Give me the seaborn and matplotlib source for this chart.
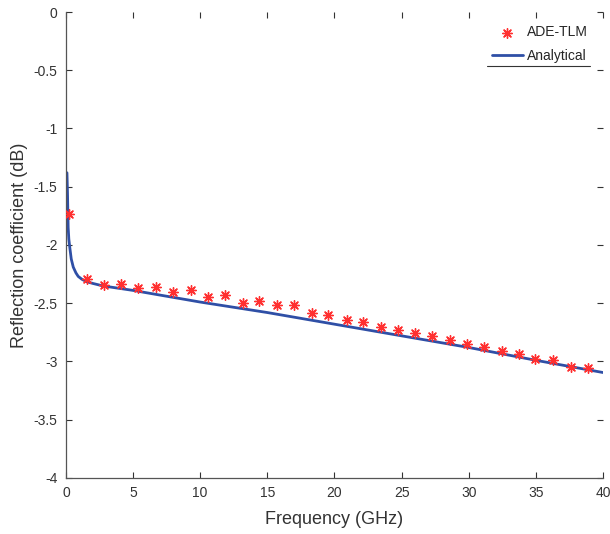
import matplotlib
matplotlib.use("Agg")
import matplotlib.pyplot as plt
import seaborn as sns
import pandas as pd

# ADE-TLM simulated points
tlm_freq = [0.25, 1.54, 2.83, 4.10, 5.39, 6.70, 7.99, 9.29, 10.55, 11.84, 13.16, 14.40,
            15.70, 17.00, 18.30, 19.50, 20.90, 22.10, 23.50, 24.70, 26.00, 27.30,
            28.60, 29.85, 31.16, 32.45, 33.74, 34.96, 36.30, 37.60, 38.90]
tlm_db = [-1.73, -2.29, -2.34, -2.335, -2.37, -2.36, -2.405, -2.39, -2.445, -2.43, -2.495, -2.48,
          -2.515, -2.515, -2.58, -2.60, -2.64, -2.66, -2.70, -2.73, -2.755, -2.785,
          -2.82, -2.85, -2.88, -2.91, -2.935, -2.98, -2.99, -3.045, -3.06]

# Analytical curve
ana_freq = [0.08, 0.12, 0.17, 0.22, 0.30, 0.40, 0.55, 0.75, 0.92, 1.2, 1.54, 2.0, 2.78,
            5.0, 10.0, 15.0, 20.0, 25.0, 30.0, 35.0, 40.0]
ana_db = [-1.38, -1.55, -1.85, -1.95, -2.03, -2.12, -2.19, -2.24, -2.27, -2.295, -2.315, -2.33, -2.352,
          -2.39, -2.49, -2.58, -2.68, -2.78, -2.88, -2.99, -3.095]

x_ticks = [0, 5, 10, 15, 20, 25, 30, 35, 40]
y_ticks = [0, -0.5, -1, -1.5, -2, -2.5, -3, -3.5, -4]
y_labels = ["0", "-0.5", "-1", "-1.5", "-2", "-2.5", "-3", "-3.5", "-4"]

sns.set_theme(style="white")
plt.rcParams["font.family"] = ["Liberation Sans", "DejaVu Sans"]

fig = plt.figure(figsize=(6.1, 5.34), dpi=100)
ax = fig.add_axes([0.108, 0.105, 0.8805, 0.8725])

df_ana = pd.DataFrame({"f": ana_freq, "db": ana_db})
df_tlm = pd.DataFrame({"f": tlm_freq, "db": tlm_db})

sns.scatterplot(data=df_tlm, x="f", y="db", ax=ax, marker=(8, 2, 0), s=48,
                color="#ff3030", linewidth=1.0, edgecolor="#ff3030", label="ADE-TLM", zorder=3)
sns.lineplot(data=df_ana, x="f", y="db", ax=ax, color="#2f4fa6", linewidth=2.0,
             label="Analytical", zorder=2)

ax.set_xlim(0, 40)
ax.set_ylim(-4, 0)
ax.set_xticks(x_ticks)
ax.set_yticks(y_ticks)
ax.set_yticklabels(y_labels)
ax.set_xlabel("Frequency (GHz)", fontsize=13, color="#333333", labelpad=8)
ax.set_ylabel("Reflection coefficient (dB)", fontsize=13, color="#333333", labelpad=4)
ax.tick_params(direction="in", length=4, width=0.8, colors="#333333", labelsize=10,
               top=True, right=True, bottom=True, left=True, pad=6)
for side in ["top", "right"]:
    ax.spines[side].set_visible(False)
for side in ["left", "bottom"]:
    ax.spines[side].set_color("#555555")
    ax.spines[side].set_linewidth(0.9)

leg = ax.legend(loc="upper right", bbox_to_anchor=(0.995, 0.998), frameon=False, fontsize=10,
                handlelength=2.2, handletextpad=0.3, labelspacing=0.7)
# thin rule under the legend, as in the reference
ax.plot([0.784, 0.976], [0.884, 0.884], transform=ax.transAxes, color="#333333",
        linewidth=0.8, clip_on=False)

fig.savefig("out.png", dpi=100)
